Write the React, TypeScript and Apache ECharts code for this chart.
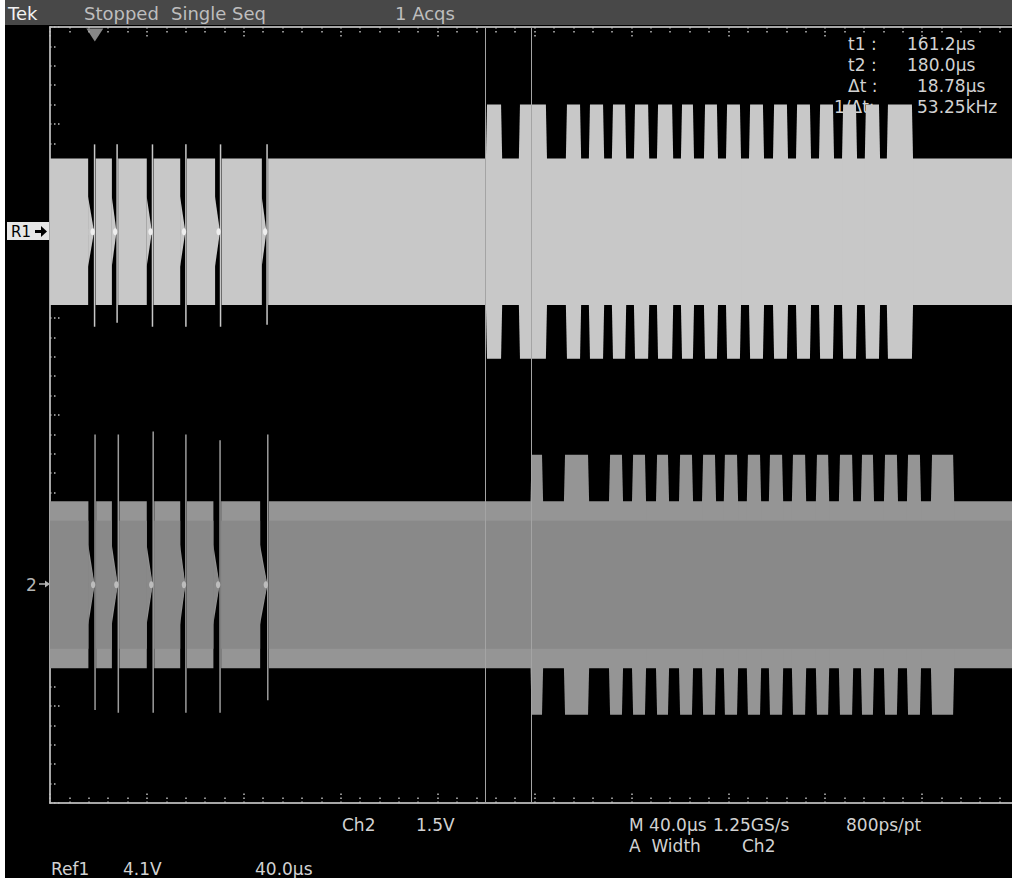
import React, { useEffect, useRef } from "react";
import * as echarts from "echarts";

const FONT = '"DejaVu Sans", "Liberation Sans", sans-serif';

// Time base: 40 µs/div over 10 divisions; all times are µs relative to the trigger.
const TIME_PER_DIV = 40;
const X_DIVS = 10;
const Y_DIVS = 8;
const PRE_TRIGGER = 18.5;

// Cursor readouts
const T1 = 161.2;
const T2 = 180.0;
const DELTA_T = 18.78;
const INV_DELTA_T_KHZ = 53.25;

// Acquisition settings
const CH2_SCALE_V = 1.5;
const REF1_SCALE_V = 4.1;
const REF1_TIME_US = 40.0;
const SAMPLE_RATE = "1.25GS/s";
const RESOLUTION = "800ps/pt";

// Ref1 trace (levels and amplitudes in divisions)
const REF1_LEVEL = 1.89;
const REF1_CARRIER = 0.755;
const REF1_BURST = 1.31;
const REF1_NOTCHES = [
  [-2.8, -0.1],
  [7.0, 9.2],
  [21.4, 23.8],
  [35.2, 37.6],
  [49.6, 51.9],
  [68.9, 71.1],
];
// [time, top, bottom]
const REF1_SPIKES = [
  [-0.1, 0.9, -0.98],
  [9.2, 0.9, -0.94],
  [23.8, 0.9, -0.98],
  [37.6, 0.9, -0.98],
  [51.9, 0.9, -0.98],
  [71.1, 0.9, -0.96],
];
const REF1_BURSTS = [
  [161.9, 167.7], [175.5, 186.2], [194.9, 200.3], [204.4, 209.8],
  [213.9, 218.9], [223.0, 228.4], [232.5, 238.3], [242.4, 246.9],
  [251.9, 256.8], [261.0, 266.3], [270.5, 275.8], [280.4, 285.7],
  [289.9, 295.2], [299.4, 304.7], [308.9, 314.2], [318.3, 323.7],
  [327.4, 337.3],
];

// Ch2 trace
const CH2_LEVEL = -1.75;
const CH2_CARRIER = 0.86;
const CH2_CORE = 0.66;
const CH2_BURST = 1.34;
const CH2_NOTCHES = [
  [-2.7, 0.1],
  [7.0, 9.7],
  [21.4, 24.1],
  [35.2, 37.6],
  [48.9, 51.7],
  [68.2, 71.4],
];
const CH2_SPIKES = [
  [0.1, 1.55, -1.29],
  [9.7, 1.55, -1.32],
  [24.1, 1.58, -1.32],
  [37.6, 1.55, -1.32],
  [51.7, 1.49, -1.32],
  [71.4, 1.55, -1.19],
];
const CH2_BURSTS = [
  [180.3, 184.6], [194.1, 203.6], [212.7, 217.6], [222.2, 227.1],
  [232.1, 236.6], [241.6, 246.5], [251.1, 256.0], [260.1, 265.1],
  [269.6, 274.6], [278.7, 283.7], [288.2, 293.2], [298.1, 302.7],
  [307.6, 312.6], [316.7, 321.2], [326.2, 331.1], [335.7, 340.6],
  [345.6, 354.3],
];

const FRAME = "#a6a6a6";
const TICK = "#bdbdbd";
const TEXT = "#d2d2d2";
const REF1_COLOR = "#c8c8c8";
const CH2_EDGE = "#959595";
const CH2_INNER = "#898989";

// Carrier band split around each notch: full band, then a taper into the notch.
function carrierSegments(notches: number[][], amp: number) {
  const start = -PRE_TRIGGER;
  const end = TIME_PER_DIV * X_DIVS - PRE_TRIGGER;
  const segs: number[][] = [];
  let cur = start;
  notches.forEach(([a, b]) => {
    segs.push([cur, a + 0.05, amp, amp]);
    segs.push([a, b - 0.4, amp * 0.48, amp * 0.04]);
    cur = b + 0.45;
  });
  segs.push([cur, end, amp, amp]);
  return segs;
}

function bandSeries(data: number[][], level: number, color: string) {
  return {
    type: "custom",
    silent: true,
    clip: true,
    data,
    renderItem: (_p: any, api: any) => {
      const x0 = api.value(0) + PRE_TRIGGER;
      const x1 = api.value(1) + PRE_TRIGGER;
      const a0 = api.value(2);
      const a1 = api.value(3);
      const points = [
        api.coord([x0, level + a0]),
        api.coord([x1, level + a1]),
        api.coord([x1, level - a1]),
        api.coord([x0, level - a0]),
      ];
      return { type: "polygon", shape: { points }, style: { fill: color } };
    },
  };
}

function burstSeries(data: number[][], level: number, base: number, peak: number, color: string) {
  return {
    type: "custom",
    silent: true,
    clip: true,
    data,
    renderItem: (_p: any, api: any) => {
      const s = api.value(0) + PRE_TRIGGER;
      const e = api.value(1) + PRE_TRIGGER;
      const w = 0.45;
      const points = [
        api.coord([s - w, level + base]),
        api.coord([s, level + peak]),
        api.coord([e, level + peak]),
        api.coord([e + w, level + base]),
        api.coord([e + w, level - base]),
        api.coord([e, level - peak]),
        api.coord([s, level - peak]),
        api.coord([s - w, level - base]),
      ];
      return { type: "polygon", shape: { points }, style: { fill: color } };
    },
  };
}

function spikeSeries(data: number[][], level: number, color: string) {
  return {
    type: "custom",
    silent: true,
    clip: true,
    data,
    renderItem: (_p: any, api: any) => {
      const t = api.value(0) + PRE_TRIGGER;
      const a = api.coord([t, level + api.value(1)]);
      const b = api.coord([t, level + api.value(2)]);
      return {
        type: "line",
        shape: { x1: a[0], y1: a[1], x2: b[0], y2: b[1] },
        style: { stroke: color, lineWidth: 1.5 },
      };
    },
  };
}

function glowSeries(data: number[][], level: number, color: string) {
  return {
    type: "custom",
    silent: true,
    clip: true,
    data: data.map((n) => [n[1]]),
    renderItem: (_p: any, api: any) => {
      const c = api.coord([api.value(0) + PRE_TRIGGER - 0.8, level]);
      return {
        type: "ellipse",
        shape: { cx: c[0], cy: c[1], rx: 2.2, ry: 3.5 },
        style: { fill: color },
      };
    },
  };
}

const axisCommon = {
  type: "value",
  axisLabel: { show: false },
  splitLine: { show: false },
  axisLine: { show: true, onZero: false, lineStyle: { color: FRAME, width: 2 } },
  axisTick: { show: true, inside: true, length: 10, lineStyle: { color: TICK, width: 1.5, type: [1.5, 2.5] } },
  minorTick: { show: true, splitNumber: 5, length: 7, lineStyle: { color: TICK, width: 1.5, type: [1.5, 2.5] } },
};

function label(text: string, x: number, y: number, fill = TEXT, size = 17) {
  return {
    type: "text",
    x,
    y,
    silent: true,
    style: { text, fill, fontSize: size, fontFamily: FONT, verticalAlign: "middle", align: "left" },
  };
}

export default function App() {
  const ref = useRef<HTMLDivElement>(null);

  useEffect(() => {
    if (!ref.current) return;
    const chart = echarts.init(ref.current, null, { renderer: "svg" });
    const xMax = TIME_PER_DIV * X_DIVS;

    const option: any = {
      animation: false,
      backgroundColor: "#000",
      grid: { left: 50, top: 27, width: 969, height: 776, containLabel: false },
      xAxis: [
        { ...axisCommon, min: 0, max: xMax, interval: TIME_PER_DIV, position: "bottom" },
        { ...axisCommon, min: 0, max: xMax, interval: TIME_PER_DIV, position: "top" },
      ],
      yAxis: [
        { ...axisCommon, min: -Y_DIVS / 2, max: Y_DIVS / 2, interval: 1, position: "left" },
      ],
      series: [
        // Ref1
        bandSeries(carrierSegments(REF1_NOTCHES, REF1_CARRIER), REF1_LEVEL, REF1_COLOR),
        burstSeries(REF1_BURSTS, REF1_LEVEL, REF1_CARRIER, REF1_BURST, REF1_COLOR),
        spikeSeries(REF1_SPIKES, REF1_LEVEL, REF1_COLOR),
        glowSeries(REF1_NOTCHES, REF1_LEVEL, "#eeeeee"),
        // Ch2
        bandSeries(carrierSegments(CH2_NOTCHES, CH2_CARRIER), CH2_LEVEL, CH2_EDGE),
        burstSeries(CH2_BURSTS, CH2_LEVEL, CH2_CARRIER, CH2_BURST, CH2_EDGE),
        bandSeries(carrierSegments(CH2_NOTCHES, CH2_CORE), CH2_LEVEL, CH2_INNER),
        spikeSeries(CH2_SPIKES, CH2_LEVEL, "#9c9c9c"),
        glowSeries(CH2_NOTCHES, CH2_LEVEL, "#bcbcbc"),
        // Trigger position marker and time cursors
        {
          type: "scatter",
          silent: true,
          clip: false,
          data: [[PRE_TRIGGER, Y_DIVS / 2]],
          symbol: "path://M0,0 L20,0 L10,15 Z",
          symbolSize: [17, 13],
          symbolOffset: [0, 8],
          itemStyle: { color: "#a8a8a8" },
          markLine: {
            silent: true,
            symbol: ["none", "none"],
            label: { show: false },
            lineStyle: { color: "#a4a4a4", width: 1, type: "solid" },
            data: [{ xAxis: T1 + PRE_TRIGGER }, { xAxis: T2 + PRE_TRIGGER }],
          },
        },
      ],
      graphic: [
        { type: "rect", silent: true, shape: { x: 0, y: 0, width: 5, height: 878 }, style: { fill: "#ffffff" } },
        { type: "rect", silent: true, shape: { x: 5, y: 0, width: 1020, height: 25 }, style: { fill: "#484848" } },
        label("Tek", 8, 13.5, "#f2f2f2", 18),
        label("Stopped", 84, 13.5, "#bebebe", 18),
        label("Single Seq", 171, 13.5, "#bebebe", 18),
        label("1 Acqs", 395, 13.5, "#bebebe", 18),

        label("t1 :", 848, 44),
        label(`${T1.toFixed(1)}µs`, 907, 44),
        label("t2 :", 848, 65),
        label(`${T2.toFixed(1)}µs`, 907, 65),
        label("Δt :", 848, 86),
        label(`${DELTA_T.toFixed(2)}µs`, 917, 86),
        label("1/Δt:", 834, 107),
        label(`${INV_DELTA_T_KHZ.toFixed(2)}kHz`, 917, 107),

        label("Ch2", 342, 825),
        label(`${CH2_SCALE_V.toFixed(1)}V`, 416, 825),
        label(`M ${TIME_PER_DIV.toFixed(1)}µs`, 629, 825),
        label(SAMPLE_RATE, 713, 825),
        label(RESOLUTION, 846, 825),
        label("A  Width", 629, 846),
        label("Ch2", 742, 846),
        label("Ref1", 51, 869),
        label(`${REF1_SCALE_V.toFixed(1)}V`, 123, 869),
        label(`${REF1_TIME_US.toFixed(1)}µs`, 255, 869),

        // Ref1 channel marker
        { type: "rect", silent: true, shape: { x: 7, y: 222, width: 42, height: 18 }, style: { fill: "#e6e6e6" } },
        label("R1", 11, 231.5, "#000000", 15),
        { type: "rect", silent: true, shape: { x: 35, y: 230, width: 7, height: 3 }, style: { fill: "#000" } },
        { type: "polygon", silent: true, shape: { points: [[41, 226], [47, 231.5], [41, 237]] }, style: { fill: "#000" } },

        // Ch2 channel marker
        label("2", 26, 584.5, "#b4b4b4", 17),
        { type: "line", silent: true, shape: { x1: 39, y1: 584, x2: 46, y2: 584 }, style: { stroke: "#b4b4b4", lineWidth: 1.5 } },
        { type: "polygon", silent: true, shape: { points: [[45, 580.5], [50, 584], [45, 587.5]] }, style: { fill: "#b4b4b4" } },
      ],
    };

    chart.setOption(option);
    return () => chart.dispose();
  }, []);

  return (
    <div
      style={{
        position: "fixed",
        left: 0,
        top: 0,
        width: 1012,
        height: 878,
        overflow: "hidden",
        background: "#000",
      }}
    >
      <div ref={ref} style={{ width: 1025, height: 878 }} />
    </div>
  );
}
